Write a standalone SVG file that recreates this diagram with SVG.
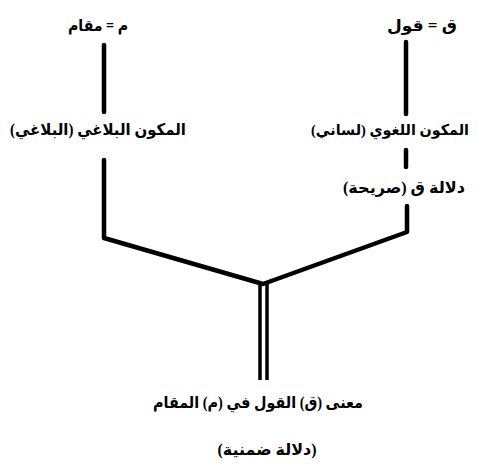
<svg xmlns="http://www.w3.org/2000/svg" width="477" height="468" viewBox="0 0 477 468">
<style>
text{font-family:"Liberation Serif","DejaVu Serif","DejaVu Sans",serif;font-weight:bold;font-size:16px;fill:#000;text-anchor:middle;direction:rtl}
.c{fill:none;stroke:#000;stroke-width:4.5;stroke-linecap:round;stroke-linejoin:round}
.d{fill:none;stroke:#000;stroke-width:3.5}
</style>
<rect width="477" height="468" fill="#fff"/>
<g id="connectors">
<path class="c" d="M104 45V112"/>
<path class="c" d="M406 42V114"/>
<path class="c" d="M406 150V167"/>
<path class="c" d="M104 160V238L263 284L407 232V206"/>
<path class="d" d="M260 284V380M267 284V380"/>
</g>
<g id="maqam"><text x="98" y="31" textLength="60" lengthAdjust="spacingAndGlyphs">م = مقام</text></g>
<g id="qawl"><text x="422" y="31" textLength="70" lengthAdjust="spacingAndGlyphs">ق = قول</text></g>
<g id="balaghi"><text x="98" y="135" textLength="176" lengthAdjust="spacingAndGlyphs">المكون البلاغي (البلاغي)</text></g>
<g id="lughawi"><text x="390" y="135" textLength="158" lengthAdjust="spacingAndGlyphs" style="font-size:15px">المكون اللغوي (لساني)</text></g>
<g id="sariha"><text x="404" y="193" textLength="122" lengthAdjust="spacingAndGlyphs">دلالة ق (صريحة)</text></g>
<g id="maana"><text x="258" y="408" textLength="210" lengthAdjust="spacingAndGlyphs">معنى (ق) القول في (م) المقام</text></g>
<g id="dimniya"><text x="267" y="455" textLength="99" lengthAdjust="spacingAndGlyphs">(دلالة ضمنية)</text></g>
</svg>
